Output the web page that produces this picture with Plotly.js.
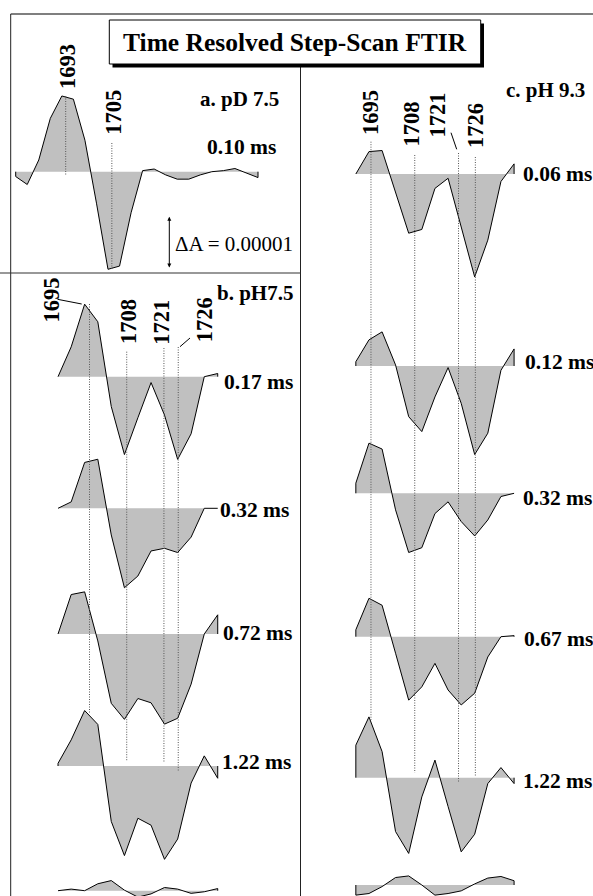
<!DOCTYPE html>
<html><head><meta charset="utf-8">
<script src="https://cdn.plot.ly/plotly-3.0.1.min.js"></script>
<style>html,body{margin:0;padding:0;background:#fff}#plot{width:593px;height:896px}</style>
</head><body><div id="plot"></div>
<script>
// ---------- DATA (ΔA in units of 1e-6, x in cm-1) ----------
const wnA = [1680,1683,1686,1689,1692,1695,1698,1701,1704,1707,1710,1713,1716,1719,1722,1725,1728,1731,1734,1737,1740,1743];
const wnB = [1684.0,1688.6,1693.3,1697.9,1702.6,1707.2,1711.9,1716.5,1721.2,1725.8,1730.5,1735.1,1739.8];
const wnC = [1690.5,1694.4,1698.3,1702.3,1706.2,1710.1,1714.0,1717.9,1721.8,1725.8,1729.7,1733.6,1737.5];

const a_010 = [-0.9,-2.4,2.2,10.0,14.2,13.6,5.9,-5.9,-18.3,-17.7,-7.7,0.2,0.5,-0.6,-1.4,-1.4,-0.6,0.0,0.2,0.6,-0.3,-1.1];

const b_017 = [0,5.6,13.6,10.3,-5.6,-14.6,-7.7,-1.1,-7.2,-15.5,-10.7,0,0.6];
const b_032 = [0,1.2,8.6,9.2,-5.0,-14.9,-12.7,-8.0,-7.5,-8.3,-5.4,0,0];
const b_072 = [0,7.4,7.9,-1.3,-13.0,-16.0,-12.1,-12.9,-16.9,-15.8,-9.4,0,3.6];
const b_122 = [0.5,4.9,10.4,7.8,-10.4,-16.8,-9.8,-11.1,-17.5,-13.7,-3.2,1.9,-2.3];
const b_next = [0,0.3,0,1.3,1.9,0.1,-1.2,-0.6,0.6,0.3,-0.5,-0.2,0.4];

const c_006 = [0,4.2,4.4,-3.4,-11.1,-10.4,-2.7,-0.8,-9.9,-19.3,-12.4,-1.4,1.9];
const c_012 = [0.8,4.9,6.4,0.2,-9.5,-12.3,-5.8,-0.3,-7.0,-16.6,-12.6,-0.8,3.2];
const c_032 = [1.9,9.4,8.3,-3.1,-11.1,-10.2,-3.8,-1.6,-5.3,-8.0,-5.0,-0.6,-0.1];
const c_067 = [1.3,7.2,5.9,-3.1,-11.9,-9.4,-5.0,-10.0,-12.8,-10.6,-3.8,0,0.2];
const c_122 = [6.1,11.4,4.9,-10.1,-14.2,-3.6,3.3,-5.4,-13.9,-10.6,-1.1,1.9,-1.1];
const c_next = [-1.9,-1.6,-0.3,1.4,1.7,0,-1.9,-1.6,-1.1,0.2,1.3,1.6,0.8];

const labA = [1693,1705];
const labB = [1695,1708,1721,1726];
const labC = [1695,1708,1721,1726];

const timesA = ['0.10 ms'];
const timesB = ['0.17 ms','0.32 ms','0.72 ms','1.22 ms'];
const timesC = ['0.06 ms','0.12 ms','0.32 ms','0.67 ms','1.22 ms'];

const titleText = 'Time Resolved Step-Scan FTIR';
const panelLabels = ['a. pD 7.5','b. pH7.5','c. pH 9.3'];
const scaleText = '\u0394A = 0.00001';

// ---------- LAYOUT GEOMETRY ----------
const W=593, H=896;
const S=5.333;               // px per 1e-6 ΔA
const FONT='Liberation Serif, Times New Roman, serif';
const px=x=>x/W, py=y=>1-y/H;

const cols = {
  a:{xa:'x',  ax:'xaxis',  wn0:1680,   p0:15.7,  k:3.846, dom:[0,300/W]},
  b:{xa:'x2', ax:'xaxis2', wn0:1712.5, p0:139.6, k:2.862, dom:[0,300/W]},
  c:{xa:'x3', ax:'xaxis3', wn0:1712.5, p0:429.9, k:3.367, dom:[300/W,1]}
};

const spectra = [
  {col:'a', wn:wnA, v:a_010, base:171.7},
  {col:'b', wn:wnB, v:b_017, base:376.7},
  {col:'b', wn:wnB, v:b_032, base:508.3},
  {col:'b', wn:wnB, v:b_072, base:634},
  {col:'b', wn:wnB, v:b_122, base:766},
  {col:'b', wn:wnB, v:b_next, base:890.7},
  {col:'c', wn:wnC, v:c_006, base:174},
  {col:'c', wn:wnC, v:c_012, base:366},
  {col:'c', wn:wnC, v:c_032, base:493.3},
  {col:'c', wn:wnC, v:c_067, base:636.7},
  {col:'c', wn:wnC, v:c_122, base:777.7},
  {col:'c', wn:wnC, v:c_next, base:885}
];

const layout = {
  width:W, height:H, margin:{l:0,r:0,t:0,b:0},
  paper_bgcolor:'#ffffff', plot_bgcolor:'rgba(0,0,0,0)',
  showlegend:false, shapes:[], annotations:[]
};
const firstY = {a:'y', b:'y2', c:'y7'};
for (const key in cols){
  const c = cols[key];
  layout[c.ax] = {domain:c.dom, anchor:firstY[key], visible:false, fixedrange:true,
    range:[c.wn0+(c.dom[0]*W-c.p0)/c.k, c.wn0+(c.dom[1]*W-c.p0)/c.k]};
}
const traces = [];
spectra.forEach((sp,i)=>{
  const n=i+1, yname = n===1?'y':'y'+n, yax = n===1?'yaxis':'yaxis'+n;
  const c = cols[sp.col];
  layout[yax] = {domain:[0,1], anchor:c.xa, visible:false, fixedrange:true,
    range:[-(H-sp.base)/S, sp.base/S]};
  const xs=[sp.wn[0]].concat(sp.wn,[sp.wn[sp.wn.length-1]]);
  const ys=[0].concat(sp.v,[0]);
  traces.push({type:'scatter', mode:'lines', x:xs, y:ys, xaxis:c.xa, yaxis:yname,
    line:{color:'#000', width:1}, fill:'tozeroy', fillcolor:'#c0c0c0', hoverinfo:'skip'});
});

// frame lines
const L = (x0,y0,x1,y1,color,w,dash)=>layout.shapes.push({type:'line',xref:'paper',yref:'paper',
  x0:px(x0),y0:py(y0),x1:px(x1),y1:py(y1),line:{color:color,width:w,dash:dash||'solid'},layer:'above'});
L(10.7,14,593,14,'#555',1.3);
L(10.7,14,10.7,896,'#222',1);
L(300.5,67,300.5,896,'#222',1);
L(0,273,300.5,273,'#333',1.2);

// title box with shadow
layout.shapes.push({type:'rect',xref:'paper',yref:'paper',x0:px(112.5),y0:py(23.5),x1:px(484),y1:py(67.5),
  fillcolor:'#000',line:{width:0},layer:'above'});
layout.shapes.push({type:'rect',xref:'paper',yref:'paper',x0:px(109.3),y0:py(20),x1:px(480.7),y1:py(64),
  fillcolor:'#fff',line:{color:'#000',width:1},layer:'above'});

// dotted marker lines
const dot = (xa,wn,y0,y1)=>layout.shapes.push({type:'line',xref:xa,yref:'paper',x0:wn,x1:wn,
  y0:py(y0),y1:py(y1),line:{color:'#555',width:1,dash:'1px,1.5px'},layer:'above'});
dot('x',labA[0],96,175); dot('x',labA[1],143,269);
dot('x2',labB[0],304,713); dot('x2',labB[1],351.7,761.7); dot('x2',labB[2],348,763); dot('x2',labB[3],347,771.7);
dot('x3',labC[0],141.7,720); dot('x3',labC[1],155,772.7); dot('x3',labC[2],153,781.7); dot('x3',labC[3],157,777);

// leader lines
L(57.5,299.3,81.7,304,'#000',1);
L(190,338,180,346.7,'#000',1);
L(451,132.7,456.7,149.3,'#000',1);

// annotations
const A = (text,x,y,opts)=>layout.annotations.push(Object.assign({text:text,xref:'paper',yref:'paper',
  x:px(x),y:py(y),showarrow:false,xanchor:'center',yanchor:'middle',
  font:{family:FONT,size:21,color:'#000'}},opts||{}));
A('<b>'+titleText+'</b>',295,42,{font:{family:FONT,size:25.5,color:'#000'}});
A('<b>'+panelLabels[0]+'</b>',239,99.5);
A('<b>'+panelLabels[1]+'</b>',255,293);
A('<b>'+panelLabels[2]+'</b>',545,90);
const tf={family:FONT,size:21.5,color:'#000'};
A('<b>'+timesA[0]+'</b>',241.5,147,{font:tf});
const tB=[[221.5,382],[218.5,509.5],[220.5,633],[219.5,762]];
timesB.forEach((t,i)=>A('<b>'+t+'</b>',tB[i][0],tB[i][1],{xanchor:'left',font:tf}));
const tC=[[520.5,174],[522.5,362],[521,498],[521.5,639],[521,781]];
timesC.forEach((t,i)=>A('<b>'+t+'</b>',tC[i][0],tC[i][1],{xanchor:'left',font:tf}));
A(scaleText,234,244,{font:{family:FONT,size:21,color:'#000'}});

// rotated wavenumber labels (axis x, shifted to drawn spot)
const R = (xa,wn,xshift,y)=>layout.annotations.push({text:'<b>'+wn+'</b>',xref:xa,yref:'paper',x:wn,y:py(y),
  xshift:xshift,showarrow:false,textangle:-90,xanchor:'center',yanchor:'middle',
  font:{family:FONT,size:22.5,color:'#000'}});
R('x',labA[0],1.8,66.5); R('x',labA[1],1,112);
R('x2',labB[0],-39,300); R('x2',labB[1],1.8,321.5); R('x2',labB[2],-3.3,322); R('x2',labB[3],26,320);
R('x3',labC[0],-0.4,112.5); R('x3',labC[1],-3.3,124); R('x3',labC[2],-22,115); R('x3',labC[3],-0.3,126);

// scale bar (double arrow)
layout.annotations.push({text:'',xref:'paper',yref:'paper',x:px(169.3),y:py(216.7),
  axref:'pixel',ayref:'pixel',ax:0,ay:52.3,showarrow:true,arrowhead:2,startarrowhead:2,
  arrowside:'end+start',arrowsize:0.8,arrowwidth:1,arrowcolor:'#000'});

Plotly.newPlot('plot',traces,layout,{staticPlot:true,displayModeBar:false});
</script></body></html>
